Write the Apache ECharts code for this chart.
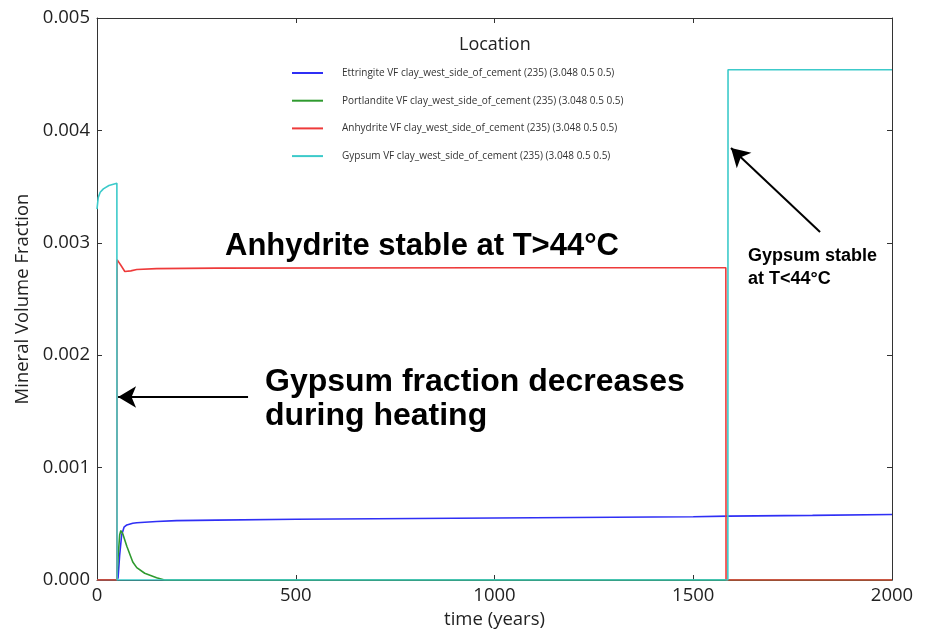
<!DOCTYPE html>
<html>
<head>
<meta charset="utf-8">
<script src="https://cdn.jsdelivr.net/npm/echarts@6/dist/echarts.min.js"></script>
<style>html,body{margin:0;padding:0;background:#fff}#c{width:926px;height:630px}</style>
</head>
<body>
<div id="c"></div>
<script>
// ---- data ----
const seriesNames = [
  'Ettringite VF clay_west_side_of_cement (235) (3.048 0.5 0.5)',
  'Portlandite VF clay_west_side_of_cement (235) (3.048 0.5 0.5)',
  'Anhydrite VF clay_west_side_of_cement (235) (3.048 0.5 0.5)',
  'Gypsum VF clay_west_side_of_cement (235) (3.048 0.5 0.5)'
];
const ettringiteTime = [0, 50, 53, 57, 62, 68, 75, 90, 100, 150, 200, 300, 500, 800, 1000, 1300, 1500, 1587, 1800, 2000];
const ettringiteVF   = [0, 0, 0.00002, 0.00022, 0.0004, 0.00047, 0.00049, 0.000505, 0.00051, 0.00052, 0.000528, 0.000533, 0.00054, 0.000547, 0.000552, 0.000558, 0.000563, 0.000568, 0.000575, 0.000583];
const portlanditeTime = [0, 50, 53, 57, 60, 65, 75, 90, 100, 120, 135, 150, 170, 2000];
const portlanditeVF   = [0, 0, 0.0002, 0.0004, 0.00044, 0.00041, 0.0003, 0.00016, 0.00011, 0.00006, 0.00004, 0.00002, 0, 0];
const anhydriteTime = [0, 50, 50.5, 60, 70, 75, 85, 100, 150, 300, 1000, 1582, 1582.5, 2000];
const anhydriteVF   = [0, 0, 0.00285, 0.0028, 0.002745, 0.002735, 0.00275, 0.002762, 0.00277, 0.002775, 0.002778, 0.002778, 0, 0];
const gypsumTime = [0, 3, 8, 16, 30, 50, 50.5, 1587, 1587.5, 2000];
const gypsumVF   = [0.0033, 0.0034, 0.00345, 0.00348, 0.00351, 0.00353, 0, 0, 0.00454, 0.00454];
const xTicks = [0, 500, 1000, 1500, 2000];
const yTicks = [0, 0.001, 0.002, 0.003, 0.004, 0.005];
const colors = ['#2f2ff5', '#2f9a2f', '#ee3a3a', '#3ccaca'];

function pairs(t, v) { return t.map((x, i) => [x, v[i]]); }
const seriesData = [
  pairs(ettringiteTime, ettringiteVF),
  pairs(portlanditeTime, portlanditeVF),
  pairs(anhydriteTime, anhydriteVF),
  pairs(gypsumTime, gypsumVF)
];

const chart = echarts.init(document.getElementById('c'));
const font = 'Open Sans';
function axisBase() {
  return {
    type: 'value',
    axisLine: { show: true, onZero: false, lineStyle: { color: '#333', width: 1 } },
    axisTick: { show: true, inside: true, length: 5, lineStyle: { color: '#333' } },
    splitLine: { show: false }
  };
}
const option = {
  animation: false,
  backgroundColor: '#fff',
  color: colors,
  grid: { left: 97, right: 34, top: 18, bottom: 50, containLabel: false, outerBoundsMode: 'none', show: false },
  legend: {
    data: seriesNames,
    orient: 'vertical',
    left: 287, top: 63,
    itemWidth: 31, itemHeight: 2, itemGap: 17.7,
    icon: 'rect',
    textStyle: { fontFamily: font, fontSize: 10, color: '#333', padding: [0, 0, 0, 14] }
  },
  xAxis: [
    Object.assign(axisBase(), {
      min: xTicks[0], max: xTicks[xTicks.length - 1], interval: 500,
      name: 'time (years)', nameLocation: 'middle', nameGap: 29,
      nameTextStyle: { fontFamily: font, fontSize: 18.5, color: '#222' },
      axisLabel: { fontFamily: font, fontSize: 18.5, color: '#222', margin: 6, formatter: v => String(v) }
    }),
    Object.assign(axisBase(), {
      position: 'top', min: 0, max: 2000, interval: 500, axisLabel: { show: false }
    })
  ],
  yAxis: [
    Object.assign(axisBase(), {
      min: yTicks[0], max: yTicks[yTicks.length - 1], interval: 0.001,
      name: 'Mineral Volume Fraction', nameLocation: 'middle', nameGap: 62,
      nameTextStyle: { fontFamily: font, fontSize: 18.5, color: '#222' },
      axisLabel: { fontFamily: font, fontSize: 18.5, color: '#222', margin: 7, formatter: v => v.toFixed(3) }
    }),
    Object.assign(axisBase(), {
      position: 'right', min: 0, max: 0.005, interval: 0.001, axisLabel: { show: false }
    })
  ],
  series: seriesNames.map((n, i) => ({
    name: n, type: 'line', data: seriesData[i], showSymbol: false,
    lineStyle: { width: 1.6, color: colors[i] }, itemStyle: { color: colors[i] },
    z: 2 + i
  })).concat([{
    name: 'arrows', type: 'line', data: [], silent: true,
    markLine: {
      silent: true, symbol: ['none', 'arrow'], symbolSize: [16, 18],
      lineStyle: { color: '#000', width: 2, type: 'solid' },
      label: { show: false },
      data: [
        [{ coord: [380, 0.001628] }, { coord: [53, 0.001628] }],
        [{ coord: [1819, 0.003096] }, { coord: [1595, 0.003843] }]
      ]
    }
  }]),
  graphic: [
    { type: 'text', left: 459, top: 36, style: { text: 'Location', font: '18px "Open Sans", sans-serif', fill: '#222' } },
    { type: 'text', left: 225, top: 231, style: { text: 'Anhydrite stable at T>44°C', font: 'bold 31px "Liberation Sans", Arial, sans-serif', fill: '#000' } },
    { type: 'text', left: 265, top: 365, style: { text: 'Gypsum fraction decreases\nduring heating', font: 'bold 32px "Liberation Sans", Arial, sans-serif', lineHeight: 34, fill: '#000' } },
    { type: 'text', left: 748, top: 245, style: { text: 'Gypsum stable\nat T<44°C', font: 'bold 18px "Liberation Sans", Arial, sans-serif', lineHeight: 23, fill: '#000' } }
  ]
};
chart.setOption(option);
</script>
</body>
</html>
